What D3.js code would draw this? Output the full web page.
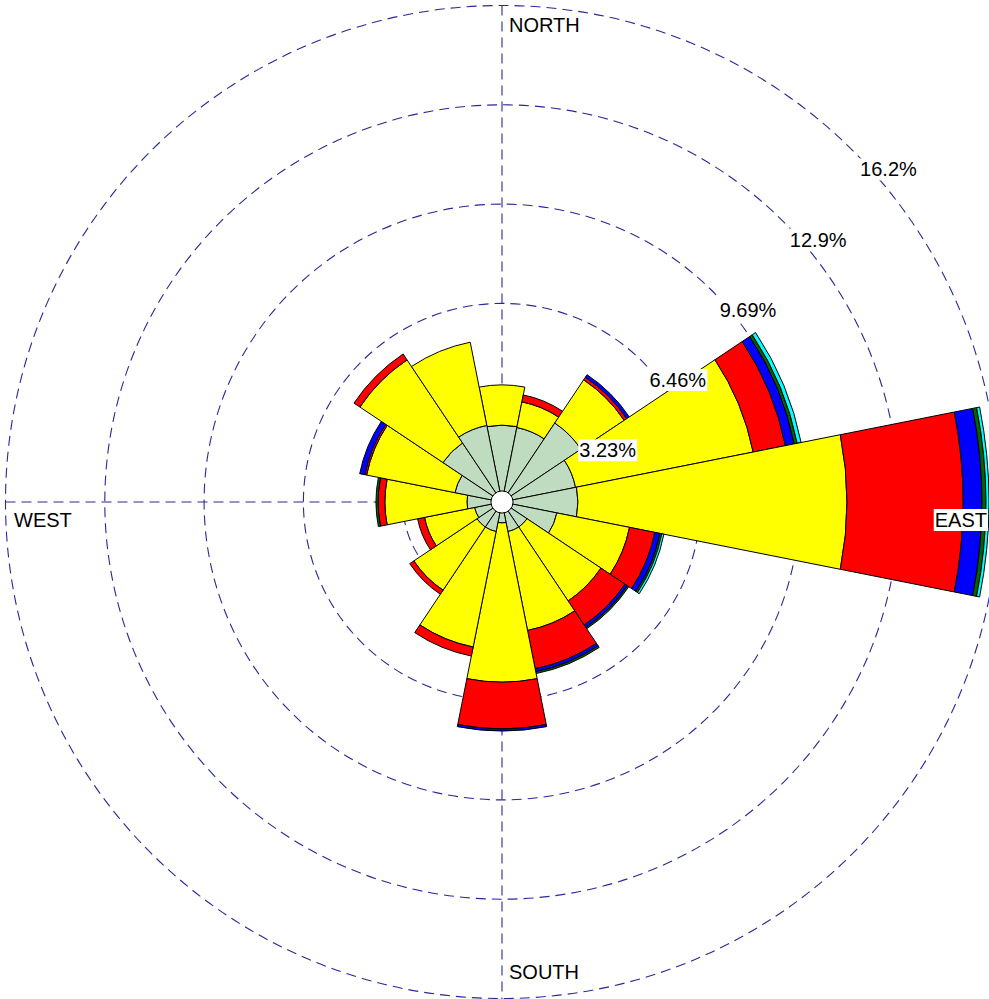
<!DOCTYPE html>
<html>
<head>
<meta charset="utf-8">
<script src="https://cdn.jsdelivr.net/npm/d3@7"></script>
<style>
  html, body { margin: 0; padding: 0; background: #fff; }
  svg { display: block; }
  text { font-family: "Liberation Sans", Arial, Helvetica, sans-serif; font-size: 20px; fill: #000; }
</style>
</head>
<body>
<svg id="rose" width="989" height="999"></svg>
<script>
// Wind directions (compass order) and their bearings in degrees
const directions = ["N","NNE","NE","ENE","E","ESE","SE","SSE","S","SSW","SW","WSW","W","WNW","NW","NNW"];
const bearings = [0, 22.5, 45, 67.5, 90, 112.5, 135, 157.5, 180, 202.5, 225, 247.5, 270, 292.5, 315, 337.5];

// Frequency (%) of each wind-speed class per direction, innermost class first
const speedClass1 = [2.50, 2.47, 3.09, 2.44, 2.47, 1.82, 0.98, 0.98, 0.68, 0.98, 0.98, 0.91, 1.14, 1.56, 2.31, 2.54];
const speedClass2 = [1.31, 0.85, 1.69, 5.89, 8.75, 2.41, 2.89, 3.28, 5.18, 3.83, 2.47, 1.66, 2.67, 2.93, 3.25, 2.76];
const speedClass3 = [0.00, 0.23, 0.10, 1.07, 3.78, 0.84, 0.94, 1.27, 1.52, 0.30, 0.16, 0.23, 0.22, 0.06, 0.23, 0.00];
const speedClass4 = [0.00, 0.00, 0.10, 0.29, 0.61, 0.17, 0.10, 0.10, 0.07, 0.00, 0.00, 0.00, 0.00, 0.17, 0.00, 0.00];
const speedClass5 = [0.00, 0.00, 0.00, 0.10, 0.13, 0.06, 0.05, 0.06, 0.00, 0.00, 0.00, 0.00, 0.07, 0.00, 0.00, 0.00];
const speedClass6 = [0.00, 0.00, 0.00, 0.13, 0.10, 0.07, 0.00, 0.00, 0.00, 0.00, 0.00, 0.00, 0.00, 0.00, 0.00, 0.00];
const speedClasses = [speedClass1, speedClass2, speedClass3, speedClass4, speedClass5, speedClass6];
const classColors = ["#c0dcc0", "#ffff00", "#ff0000", "#0000ff", "#006400", "#00ffff"];

// Calm share shown as the central disc (%)
const calm = 0.36;

// Radial grid
const gridValues = [3.23, 6.46, 9.69, 12.92, 16.15];
const gridLabels = ["3.23%", "6.46%", "9.69%", "12.9%", "16.2%"];
const cardinalLabels = ["NORTH", "EAST", "SOUTH", "WEST"];

const W = 989, H = 999;
const cx = 502, cy = 502;
const svg = d3.select("#rose");

const r = d3.scaleLinear().domain([0, 16.15]).range([0, 496.5]);
const rMax = r(gridValues[gridValues.length - 1]);
const rad = d => d * Math.PI / 180;

const g = svg.append("g").attr("transform", `translate(${cx},${cy})`);

// Dashed grid circles and axes
const gridColor = "#28289a";
const grid = g.append("g").attr("fill", "none").attr("stroke", gridColor)
  .attr("stroke-width", 1.1).attr("stroke-dasharray", "10,6");
grid.selectAll("circle").data(gridValues).join("circle").attr("r", d => r(d));
grid.append("line").attr("x1", 0).attr("y1", -rMax).attr("x2", 0).attr("y2", H - cy);
grid.append("line").attr("x1", -rMax).attr("y1", 0).attr("x2", rMax).attr("y2", 0);

// Stacked wedge segments
const half = 11.25;
const segments = [];
directions.forEach((dir, i) => {
  let acc = 0;
  speedClasses.forEach((cls, k) => {
    const v = cls[i];
    if (v > 0) {
      segments.push({ dir, bearing: bearings[i], inner: acc, outer: acc + v, color: classColors[k] });
    }
    acc += v;
  });
});

const arc = d3.arc()
  .innerRadius(d => r(d.inner))
  .outerRadius(d => r(d.outer))
  .startAngle(d => rad(d.bearing - half))
  .endAngle(d => rad(d.bearing + half));

g.append("g").selectAll("path").data(segments).join("path")
  .attr("d", arc)
  .attr("fill", d => d.color)
  .attr("stroke", "#000")
  .attr("stroke-width", 1)
  .attr("stroke-linejoin", "miter");

// Calm disc
g.append("circle").attr("r", r(calm)).attr("fill", "#fff").attr("stroke", "#000").attr("stroke-width", 1);

// Labels with white backing boxes
function boxedText(parent, x, y, txt, anchor) {
  const grp = parent.append("g");
  const rect = grp.append("rect").attr("fill", "#fff");
  const t = grp.append("text").attr("x", x).attr("y", y).attr("text-anchor", anchor || "start").text(txt);
  const bb = t.node().getBBox();
  rect.attr("x", bb.x - 1).attr("y", bb.y).attr("width", bb.width + 2).attr("height", bb.height);
  return grp;
}

const labels = svg.append("g");
gridValues.forEach((v, i) => {
  const px = cx + r(v) * Math.sin(rad(45));
  const py = cy - r(v) * Math.cos(rad(45));
  boxedText(labels, px + 7, py + 25.5, gridLabels[i], "start");
});

boxedText(labels, cx + 7, cy - rMax + 26, cardinalLabels[0], "start");
boxedText(labels, W - 2, cy + 25, cardinalLabels[1], "end");
boxedText(labels, cx + 7, H - 20, cardinalLabels[2], "start");
boxedText(labels, cx - rMax + 8.5, cy + 25, cardinalLabels[3], "start");
</script>
</body>
</html>
